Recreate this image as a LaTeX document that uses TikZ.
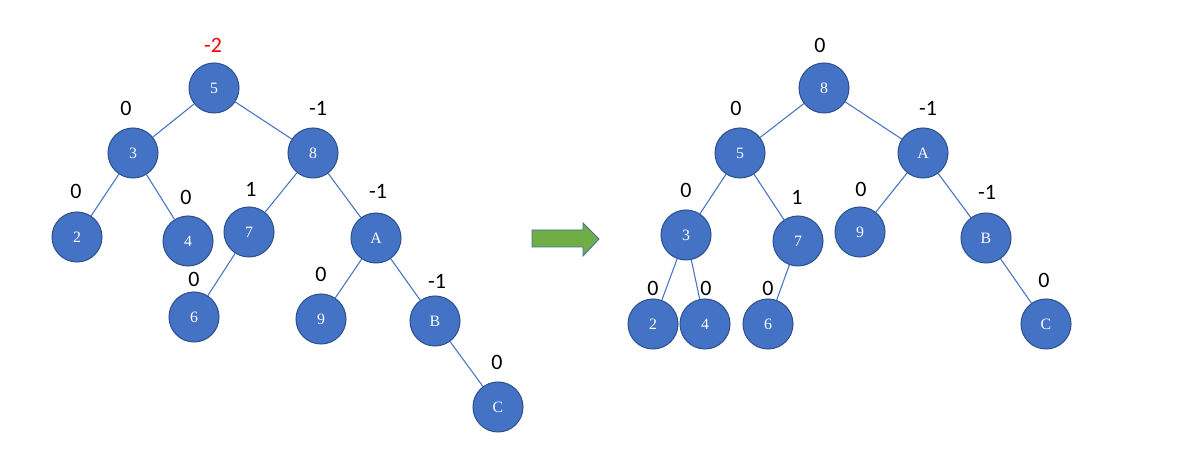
\documentclass[tikz,border=0pt]{standalone}
\usepackage{fontspec}
\usepackage{xcolor}
\setmainfont{Liberation Serif}
\newfontfamily\calfont{Carlito}
\definecolor{nodeblue}{HTML}{4472C4}
\definecolor{rimblue}{HTML}{2F528F}
\definecolor{arrowgreen}{HTML}{70AD47}
\definecolor{arrowrim}{HTML}{41719C}

\begin{document}
\begin{tikzpicture}[x=0.02cm,y=-0.02cm,
    avl/.style={circle, fill=nodeblue, draw=rimblue, line width=0.6pt, minimum size=1cm, inner sep=0pt, text=white, font=\fontsize{9}{10}\selectfont},
    bf/.style={font=\calfont\fontsize{12.5}{13}\selectfont, inner sep=0pt},
    link/.style={draw=nodeblue, line width=0.6pt}]
            \useasboundingbox (0,0) rectangle (1197,475);
            % before rotation
            \node[avl] (l5) at (214,88) {5};
            \node[avl] (l3) at (133,153) {3};
            \node[avl] (l8) at (313,153) {8};
            \node[avl] (l2) at (77,237) {2};
            \node[avl] (l4) at (188,241) {4};
            \node[avl] (l7) at (249,232) {7};
            \node[avl] (lA) at (376,238) {A};
            \node[avl] (l6) at (194,317) {6};
            \node[avl] (l9) at (321,319) {9};
            \node[avl] (lB) at (435,321) {B};
            \node[avl] (lC) at (498,407) {C};
            \draw[link] (l5) -- (l3);
            \draw[link] (l5) -- (l8);
            \draw[link] (l3) -- (l2);
            \draw[link] (l3) -- (l4);
            \draw[link] (l8) -- (l7);
            \draw[link] (l8) -- (lA);
            \draw[link] (l7) -- (l6);
            \draw[link] (lA) -- (l9);
            \draw[link] (lA) -- (lB);
            \draw[link] (lB) -- (lC);
            \node[bf, text=red] (bl5) at (213,45) {-2};
            \node[bf] (bl3) at (126,108) {0};
            \node[bf] (bl8) at (318,108) {-1};
            \node[bf] (bl2) at (76,191) {0};
            \node[bf] (bl4) at (186,197) {0};
            \node[bf] (bl7) at (251,189) {1};
            \node[bf] (blA) at (378,191) {-1};
            \node[bf] (bl6) at (194,279) {0};
            \node[bf] (bl9) at (321,274) {0};
            \node[bf] (blB) at (437,281) {-1};
            \node[bf] (blC) at (497,362) {0};
            % arrow
            \filldraw[fill=arrowgreen, draw=arrowrim, line width=0.5pt] (532,230) -- (583,230) -- (583,223) -- (599,239) -- (583,256) -- (583,247) -- (532,247) -- cycle;
            % after rotation
            \node[avl] (r8) at (824,88) {8};
            \node[avl] (r5) at (740,153) {5};
            \node[avl] (rA) at (923,153) {A};
            \node[avl] (r3) at (686,235) {3};
            \node[avl] (r7) at (798,241) {7};
            \node[avl] (r9) at (860,232) {9};
            \node[avl] (rB) at (986,238) {B};
            \node[avl] (r2) at (653,324) {2};
            \node[avl] (r4) at (705,324) {4};
            \node[avl] (r6) at (768,324) {6};
            \node[avl] (rC) at (1046,324) {C};
            \draw[link] (r8) -- (r5);
            \draw[link] (r8) -- (rA);
            \draw[link] (r5) -- (r3);
            \draw[link] (r5) -- (r7);
            \draw[link] (rA) -- (r9);
            \draw[link] (rA) -- (rB);
            \draw[link] (r3) -- (r2);
            \draw[link] (r3) -- (r4);
            \draw[link] (r7) -- (r6);
            \draw[link] (rB) -- (rC);
            \node[bf] (br8) at (820,45) {0};
            \node[bf] (br5) at (736,108) {0};
            \node[bf] (brA) at (928,108) {-1};
            \node[bf] (br3) at (686,190) {0};
            \node[bf] (br7) at (797,197) {1};
            \node[bf] (br9) at (861,189) {0};
            \node[bf] (brB) at (987,192) {-1};
            \node[bf] (br2) at (653,288) {0};
            \node[bf] (br4) at (706,288) {0};
            \node[bf] (br6) at (768,288) {0};
            \node[bf] (brC) at (1044,280) {0};
        \end{tikzpicture}
\end{document}
